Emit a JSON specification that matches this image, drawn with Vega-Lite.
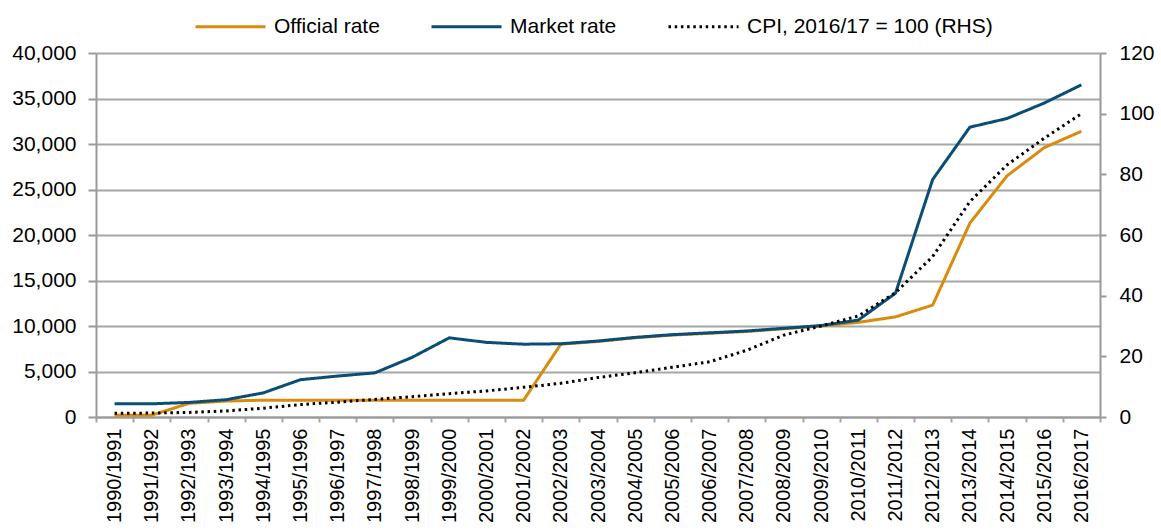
{
  "$schema": "https://vega.github.io/schema/vega-lite/v6.json",
  "width": 1004,
  "height": 364,
  "autosize": {"type": "none"},
  "padding": {"left": 96, "top": 53, "right": 61, "bottom": 113},
  "background": "white",
  "config": {
    "view": {"stroke": null},
    "font": "Liberation Sans",
    "axis": {
      "labelFont": "Liberation Sans",
      "labelFontSize": 21,
      "labelColor": "#000000",
      "domainColor": "#999999",
      "domainWidth": 2,
      "tickColor": "#999999",
      "tickWidth": 2,
      "gridColor": "#A6A6A6",
      "gridWidth": 2,
      "title": null
    },
    "legend": {
      "labelFont": "Liberation Sans",
      "labelFontSize": 21,
      "labelColor": "#000000",
      "labelLimit": 400,
      "symbolType": "stroke",
      "symbolSize": 4900,
      "symbolStrokeWidth": 3,
      "labelOffset": 7,
      "columnPadding": 45,
      "padding": 0
    }
  },
  "data": {
    "values": [
      {"year": "1990/1991", "series": "Official rate", "value": 200},
      {"year": "1991/1992", "series": "Official rate", "value": 200},
      {"year": "1992/1993", "series": "Official rate", "value": 1500},
      {"year": "1993/1994", "series": "Official rate", "value": 1750},
      {"year": "1994/1995", "series": "Official rate", "value": 1850},
      {"year": "1995/1996", "series": "Official rate", "value": 1850},
      {"year": "1996/1997", "series": "Official rate", "value": 1850},
      {"year": "1997/1998", "series": "Official rate", "value": 1850},
      {"year": "1998/1999", "series": "Official rate", "value": 1850},
      {"year": "1999/2000", "series": "Official rate", "value": 1850},
      {"year": "2000/2001", "series": "Official rate", "value": 1850},
      {"year": "2001/2002", "series": "Official rate", "value": 1850},
      {"year": "2002/2003", "series": "Official rate", "value": 8000},
      {"year": "2003/2004", "series": "Official rate", "value": 8300},
      {"year": "2004/2005", "series": "Official rate", "value": 8700},
      {"year": "2005/2006", "series": "Official rate", "value": 9000},
      {"year": "2006/2007", "series": "Official rate", "value": 9200},
      {"year": "2007/2008", "series": "Official rate", "value": 9400},
      {"year": "2008/2009", "series": "Official rate", "value": 9700},
      {"year": "2009/2010", "series": "Official rate", "value": 10000},
      {"year": "2010/2011", "series": "Official rate", "value": 10400},
      {"year": "2011/2012", "series": "Official rate", "value": 11000},
      {"year": "2012/2013", "series": "Official rate", "value": 12300},
      {"year": "2013/2014", "series": "Official rate", "value": 21300},
      {"year": "2014/2015", "series": "Official rate", "value": 26500},
      {"year": "2015/2016", "series": "Official rate", "value": 29600},
      {"year": "2016/2017", "series": "Official rate", "value": 31400},
      {"year": "1990/1991", "series": "Market rate", "value": 1450},
      {"year": "1991/1992", "series": "Market rate", "value": 1450},
      {"year": "1992/1993", "series": "Market rate", "value": 1600},
      {"year": "1993/1994", "series": "Market rate", "value": 1900},
      {"year": "1994/1995", "series": "Market rate", "value": 2650},
      {"year": "1995/1996", "series": "Market rate", "value": 4100},
      {"year": "1996/1997", "series": "Market rate", "value": 4500},
      {"year": "1997/1998", "series": "Market rate", "value": 4850},
      {"year": "1998/1999", "series": "Market rate", "value": 6550},
      {"year": "1999/2000", "series": "Market rate", "value": 8700},
      {"year": "2000/2001", "series": "Market rate", "value": 8200},
      {"year": "2001/2002", "series": "Market rate", "value": 8000},
      {"year": "2002/2003", "series": "Market rate", "value": 8050},
      {"year": "2003/2004", "series": "Market rate", "value": 8350},
      {"year": "2004/2005", "series": "Market rate", "value": 8750},
      {"year": "2005/2006", "series": "Market rate", "value": 9050},
      {"year": "2006/2007", "series": "Market rate", "value": 9250},
      {"year": "2007/2008", "series": "Market rate", "value": 9450},
      {"year": "2008/2009", "series": "Market rate", "value": 9750},
      {"year": "2009/2010", "series": "Market rate", "value": 10050},
      {"year": "2010/2011", "series": "Market rate", "value": 10650},
      {"year": "2011/2012", "series": "Market rate", "value": 13600},
      {"year": "2012/2013", "series": "Market rate", "value": 26100},
      {"year": "2013/2014", "series": "Market rate", "value": 31850},
      {"year": "2014/2015", "series": "Market rate", "value": 32800},
      {"year": "2015/2016", "series": "Market rate", "value": 34500},
      {"year": "2016/2017", "series": "Market rate", "value": 36500},
      {"year": "1990/1991", "series": "CPI, 2016/17 = 100 (RHS)", "value": 1.2},
      {"year": "1991/1992", "series": "CPI, 2016/17 = 100 (RHS)", "value": 1.3},
      {"year": "1992/1993", "series": "CPI, 2016/17 = 100 (RHS)", "value": 1.5},
      {"year": "1993/1994", "series": "CPI, 2016/17 = 100 (RHS)", "value": 2.0},
      {"year": "1994/1995", "series": "CPI, 2016/17 = 100 (RHS)", "value": 2.9},
      {"year": "1995/1996", "series": "CPI, 2016/17 = 100 (RHS)", "value": 4.1},
      {"year": "1996/1997", "series": "CPI, 2016/17 = 100 (RHS)", "value": 4.9},
      {"year": "1997/1998", "series": "CPI, 2016/17 = 100 (RHS)", "value": 5.8},
      {"year": "1998/1999", "series": "CPI, 2016/17 = 100 (RHS)", "value": 6.7},
      {"year": "1999/2000", "series": "CPI, 2016/17 = 100 (RHS)", "value": 7.7},
      {"year": "2000/2001", "series": "CPI, 2016/17 = 100 (RHS)", "value": 8.6},
      {"year": "2001/2002", "series": "CPI, 2016/17 = 100 (RHS)", "value": 9.8},
      {"year": "2002/2003", "series": "CPI, 2016/17 = 100 (RHS)", "value": 11.1},
      {"year": "2003/2004", "series": "CPI, 2016/17 = 100 (RHS)", "value": 13.0},
      {"year": "2004/2005", "series": "CPI, 2016/17 = 100 (RHS)", "value": 14.6},
      {"year": "2005/2006", "series": "CPI, 2016/17 = 100 (RHS)", "value": 16.4},
      {"year": "2006/2007", "series": "CPI, 2016/17 = 100 (RHS)", "value": 18.2},
      {"year": "2007/2008", "series": "CPI, 2016/17 = 100 (RHS)", "value": 22.0},
      {"year": "2008/2009", "series": "CPI, 2016/17 = 100 (RHS)", "value": 27.0},
      {"year": "2009/2010", "series": "CPI, 2016/17 = 100 (RHS)", "value": 30.0},
      {"year": "2010/2011", "series": "CPI, 2016/17 = 100 (RHS)", "value": 33.3},
      {"year": "2011/2012", "series": "CPI, 2016/17 = 100 (RHS)", "value": 41.0},
      {"year": "2012/2013", "series": "CPI, 2016/17 = 100 (RHS)", "value": 52.9},
      {"year": "2013/2014", "series": "CPI, 2016/17 = 100 (RHS)", "value": 71.0},
      {"year": "2014/2015", "series": "CPI, 2016/17 = 100 (RHS)", "value": 83.1},
      {"year": "2015/2016", "series": "CPI, 2016/17 = 100 (RHS)", "value": 91.9},
      {"year": "2016/2017", "series": "CPI, 2016/17 = 100 (RHS)", "value": 100}
    ]
  },
  "encoding": {
    "x": {
      "field": "year",
      "type": "nominal",
      "sort": null,
      "bandPosition": 0.5,
      "scale": {"type": "band", "paddingInner": 0, "paddingOuter": 0},
      "axis": {
        "labelAngle": 270,
        "labelFontSize": 20,
        "tickSize": 5,
        "labelPadding": 6,
        "tickBand": "extent",
        "grid": false,
        "tickColor": "#A6A6A6",
        "domainColor": "#999999"
      }
    },
    "color": {
      "field": "series",
      "type": "nominal",
      "title": null,
      "scale": {
        "domain": ["Official rate", "Market rate", "CPI, 2016/17 = 100 (RHS)"],
        "range": ["#D98B0D", "#0A4D76", "#000000"]
      },
      "legend": {"orient": "none", "direction": "horizontal", "legendX": 98, "legendY": -63}
    },
    "strokeDash": {
      "field": "series",
      "type": "nominal",
      "title": null,
      "scale": {
        "domain": ["Official rate", "Market rate", "CPI, 2016/17 = 100 (RHS)"],
        "range": [[1, 0], [1, 0], [2.5, 3.7]]
      },
      "legend": {"orient": "none", "direction": "horizontal", "legendX": 98, "legendY": -63}
    }
  },
  "layer": [
    {
      "transform": [{"filter": "datum.series !== 'CPI, 2016/17 = 100 (RHS)'"}],
      "mark": {"type": "line", "strokeWidth": 3},
      "encoding": {
        "y": {
          "field": "value",
          "type": "quantitative",
          "scale": {"domain": [0, 40000], "nice": false},
          "axis": {
            "values": [0, 5000, 10000, 15000, 20000, 25000, 30000, 35000, 40000],
            "format": ",.0f",
            "tickSize": 8,
            "labelPadding": 12,
            "grid": true
          }
        }
      }
    },
    {
      "transform": [{"filter": "datum.series === 'CPI, 2016/17 = 100 (RHS)'"}],
      "mark": {"type": "line", "strokeWidth": 3},
      "encoding": {
        "y": {
          "field": "value",
          "type": "quantitative",
          "scale": {"domain": [0, 120], "nice": false},
          "axis": {
            "orient": "right",
            "values": [0, 20, 40, 60, 80, 100, 120],
            "tickSize": 6,
            "labelPadding": 13,
            "grid": false
          }
        }
      }
    }
  ],
  "resolve": {"scale": {"y": "independent"}}
}
